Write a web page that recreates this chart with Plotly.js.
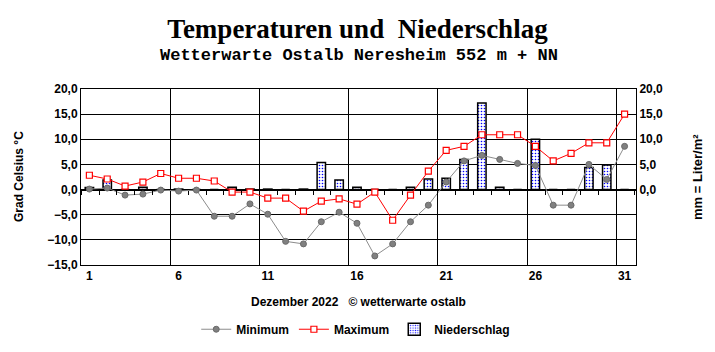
<!DOCTYPE html>
<html>
<head>
<meta charset="utf-8">
<script src="https://cdn.plot.ly/plotly-3.0.1.min.js"></script>
<style>html,body{margin:0;padding:0;background:#fff;}#chart{width:715px;height:352px;}</style>
</head>
<body>
<div id="chart"></div>
<script>
const days = Array.from({length:31},(_,i)=>i+1);
const tempMin = [0.1,0.3,-1.1,-0.9,-0.1,-0.3,-0.1,-5.3,-5.3,-2.85,-4.9,-10.3,-10.8,-6.4,-4.5,-6.7,-13.2,-10.8,-6.4,-3.1,1.5,5.7,6.8,6.0,5.2,4.8,-3.1,-3.1,5.0,2.0,8.6];
const tempMax = [2.85,2.1,0.7,1.5,3.2,2.25,2.25,1.7,-0.5,-0.5,-1.7,-1.7,-4.3,-2.3,-1.85,-2.9,-0.5,-6.1,-1.1,3.65,7.8,8.6,10.9,10.9,10.9,8.6,5.7,7.2,9.3,9.3,15.0];
const precip = [0.4,1.9,0,0.45,0,0.1,0,0,0.45,0.1,0.1,0,0.1,5.4,1.9,0.45,0,0,0.45,2.1,2.25,6.0,17.2,0.45,0,10.0,0,0,4.4,4.9,0];
const dayTicks = [1,6,11,16,21,26,31];

const boldFont = {family:'"Liberation Sans", Arial, sans-serif', size:12, color:'#000', weight:'bold'};

const traces = [
  {type:'scatter', mode:'lines+markers', name:'Minimum', x:days, y:tempMin, xaxis:'x2', yaxis:'y2',
   line:{color:'#8c8c8c', width:1}, marker:{symbol:'circle', size:6, color:'#808080', line:{color:'#6a6a6a', width:1}}},
  {type:'scatter', mode:'lines+markers', name:'Maximum', x:days, y:tempMax, xaxis:'x2', yaxis:'y2',
   line:{color:'#ff0000', width:1}, marker:{symbol:'square', size:6, color:'#ffffff', line:{color:'#ff0000', width:1.2}}},
  {type:'bar', name:'Niederschlag', x:days, y:precip, xaxis:'x', yaxis:'y', width:0.47,
   marker:{color:'#ffffff', line:{color:'#000', width:1.5},
     pattern:{shape:'.', fgcolor:'#0000ff', bgcolor:'#ffffff', size:3, solidity:0.22, fillmode:'replace'}}}
];

const xr = [0.53, 31.64];
const layout = {
  width:715, height:352,
  margin:{l:81, r:79, t:89, b:87, autoexpand:false},
  paper_bgcolor:'#fff', plot_bgcolor:'#fff',
  separators:',.',
  showlegend:true,
  title:{text:'<b>Temperaturen und  Niederschlag</b>', font:{family:'"Liberation Serif", "Times New Roman", serif', size:27, color:'#000'},
    x:0.5, xanchor:'center', y:0.92, yanchor:'middle'},
  xaxis:{range:xr, tickvals:dayTicks, ticktext:dayTicks.map(String), ticks:'', showgrid:false, zeroline:false,
    showline:true, mirror:true, linecolor:'#000', linewidth:1, tickfont:boldFont,
    minor:{tick0:0.54, dtick:5, showgrid:true, gridcolor:'#000', gridwidth:1, ticks:''}},
  xaxis2:{range:xr, overlaying:'x', anchor:'free', position:15/35, side:'bottom', tick0:0.54, dtick:1,
    ticks:'outside', ticklen:4, tickcolor:'#000', tickwidth:1, showticklabels:false, showgrid:false, zeroline:false, showline:false},
  yaxis:{range:[-15,20], dtick:5, tickformat:'.1f', showgrid:true, gridcolor:'#000', gridwidth:1,
    zeroline:true, zerolinecolor:'#000', zerolinewidth:2, showline:true, linecolor:'#000', linewidth:1,
    ticks:'', tickfont:boldFont},
  yaxis2:{range:[-15,20], overlaying:'y', side:'right', anchor:'x2', tickvals:[0,5,10,15,20], tickformat:'.1f',
    showgrid:false, zeroline:false, showline:true, linecolor:'#000', linewidth:1, ticks:'', tickfont:boldFont},
  legend:{orientation:'h', x:0.495, xanchor:'center', y:-0.365, yanchor:'middle', font:boldFont, traceorder:'normal',
    bgcolor:'rgba(0,0,0,0)'},
  annotations:[
    {text:'<b>Wetterwarte Ostalb Neresheim 552 m + NN</b>', xref:'paper', yref:'paper', x:0.5, y:(265-55)/176,
     xanchor:'center', yanchor:'middle', showarrow:false, font:{family:'"Liberation Mono", "Courier New", monospace', size:17, color:'#000'}},
    {text:'<b>Dezember 2022   © wetterwarte ostalb</b>', xref:'paper', yref:'paper', x:0.5, y:(265-302)/176,
     xanchor:'center', yanchor:'middle', showarrow:false, font:boldFont},
    {text:'<b>Grad Celsius °C</b>', xref:'paper', yref:'paper', x:(19-81)/555, y:(265-177)/176, textangle:-90,
     xanchor:'center', yanchor:'middle', showarrow:false, font:boldFont},
    {text:'<b>mm = Liter/m²</b>', xref:'paper', yref:'paper', x:(697-81)/555, y:(265-177)/176, textangle:-90,
     xanchor:'center', yanchor:'middle', showarrow:false, font:{family:'"Liberation Sans", Arial, sans-serif', size:13, color:'#000', weight:'bold'}}
  ]
};
Plotly.newPlot('chart', traces, layout, {displayModeBar:false, staticPlot:true});
</script>
</body>
</html>
